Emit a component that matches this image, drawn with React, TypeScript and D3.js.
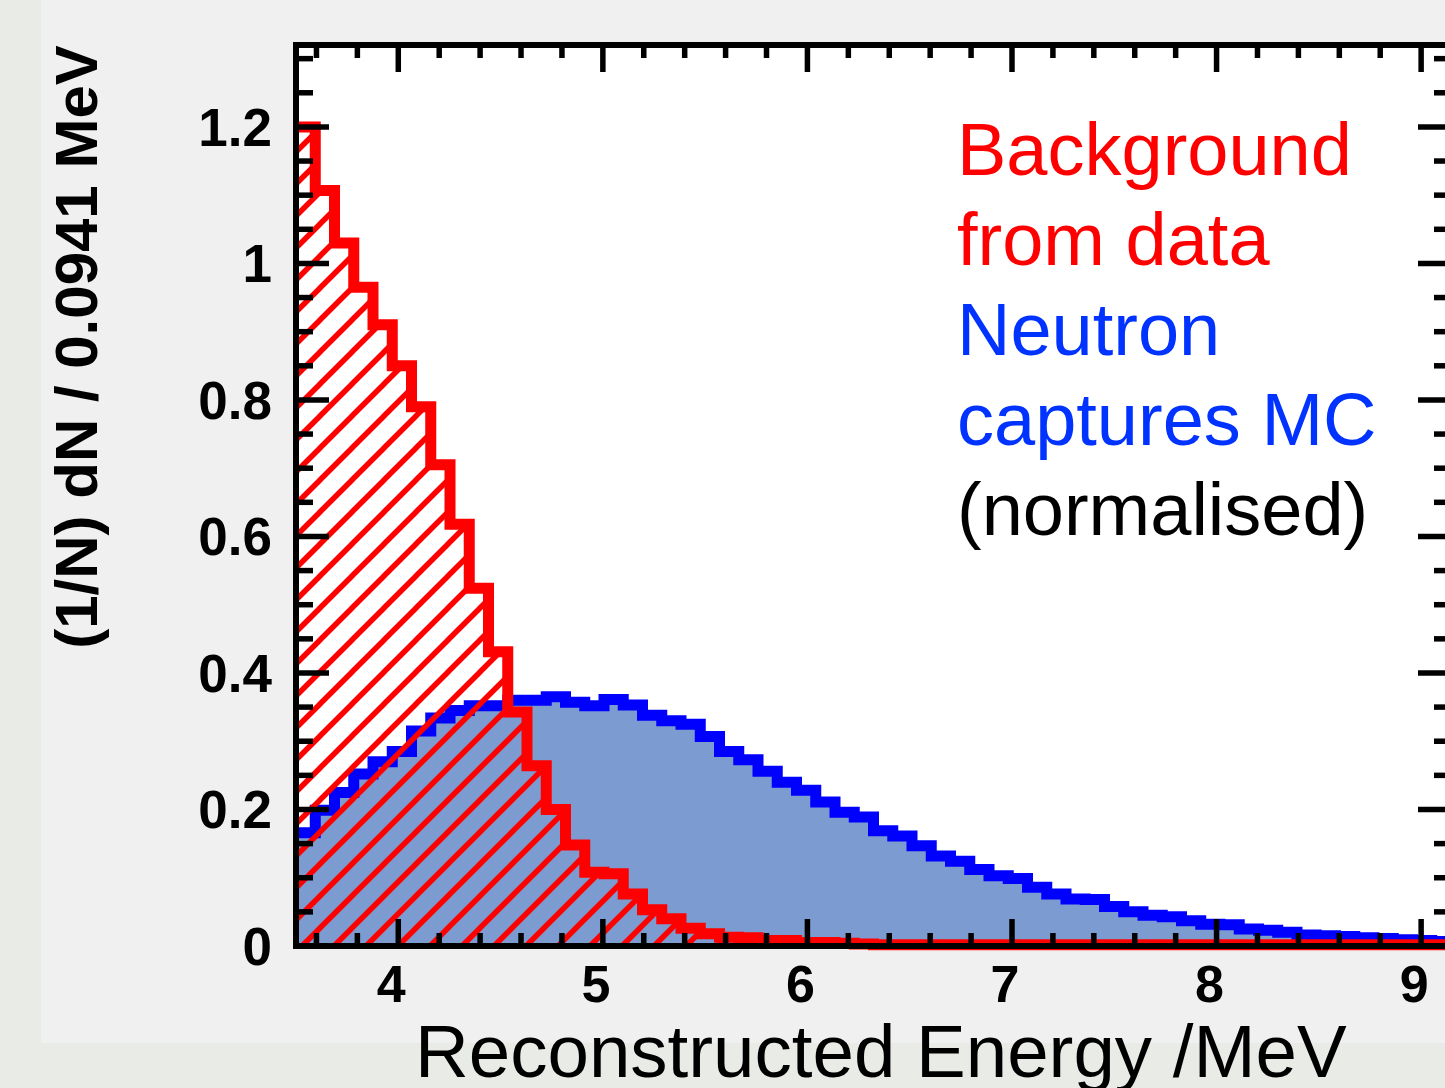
import * as d3 from 'd3'

// histogram binning (MeV)
const binLow = 3.5
const binWidth = 0.0941

// background from data, per bin (normalised)
const background = [
  1.2, 1.107, 1.03, 0.965, 0.91, 0.85, 0.79, 0.705, 0.618, 0.524,
  0.431, 0.343, 0.264, 0.2, 0.148, 0.108, 0.106, 0.076, 0.053, 0.04,
  0.026, 0.018, 0.013, 0.012, 0.008, 0.008, 0.005, 0.005, 0.004, 0.003,
  0.002, 0.002, 0.002, 0.002, 0.002, 0.002, 0.002, 0.002, 0.002, 0.002,
  0.002, 0.002, 0.002, 0.002, 0.002, 0.002, 0.002, 0.002, 0.002, 0.002,
  0.002, 0.002, 0.002, 0.002, 0.002, 0.002, 0.002, 0.002, 0.002, 0.002,
]

// neutron captures MC, per bin (normalised)
const neutron = [
  0.166, 0.199, 0.225, 0.252, 0.27, 0.285, 0.315, 0.334, 0.345, 0.352,
  0.352, 0.36, 0.36, 0.365, 0.357, 0.352, 0.361, 0.353, 0.338, 0.33,
  0.325, 0.307, 0.285, 0.273, 0.256, 0.24, 0.228, 0.211, 0.196, 0.189,
  0.169, 0.161, 0.147, 0.132, 0.124, 0.112, 0.103, 0.099, 0.086, 0.076,
  0.069, 0.068, 0.058, 0.05, 0.045, 0.043, 0.037, 0.032, 0.031, 0.025,
  0.023, 0.02, 0.016, 0.015, 0.014, 0.012, 0.011, 0.009, 0.008, 0.0066,
]

const xTickValues = [4, 5, 6, 7, 8, 9]
const xTickLabels = ['4', '5', '6', '7', '8', '9']
const yTickValues = [0, 0.2, 0.4, 0.6, 0.8, 1, 1.2]
const yTickLabels = ['0', '0.2', '0.4', '0.6', '0.8', '1', '1.2']

const legendLines = ['Background', 'from data', 'Neutron', 'captures MC', '(normalised)']
const legendColors = ['#ff0000', '#ff0000', '#0033ff', '#0033ff', '#000000']

const FONT = '"Liberation Sans", Arial, Helvetica, sans-serif'

const App = () => {
  const width = 1445
  const height = 1088
  const nBins = neutron.length
  const xMax = binLow + nBins * binWidth

  const x = d3.scaleLinear().domain([binLow, xMax]).range([296, 1451])
  const y = d3.scaleLinear().domain([0, 1.32]).range([946, 45])

  const [x0, x1] = x.range()
  const [yBottom, yTop] = y.range()

  // step points: one per bin edge, last bin repeated at the right edge
  const steps = (vals: number[]) => {
    const pts = vals.map((v, i) => [binLow + i * binWidth, v] as [number, number])
    pts.push([binLow + vals.length * binWidth, vals[vals.length - 1]])
    return pts
  }

  const line = d3.line<[number, number]>()
    .x(d => x(d[0]))
    .y(d => y(d[1]))
    .curve(d3.curveStepAfter)

  const area = d3.area<[number, number]>()
    .x(d => x(d[0]))
    .y0(y(0))
    .y1(d => y(d[1]))
    .curve(d3.curveStepAfter)

  const bgSteps = steps(background)
  const nSteps = steps(neutron)

  // minor ticks every 0.2 MeV on x, every 0.05 on y
  const xTicks = d3.range(18, 46).map(k => ({ v: k / 5, major: k % 5 === 0 }))
  const yTicks = d3.range(0, 27).map(k => ({ v: k / 20, major: k % 4 === 0 }))

  return (
    <svg width={width} height={height}
      style={{ position: 'absolute', left: 0, top: 0, display: 'block' }}
      fontFamily={FONT}>
      <defs>
        <clipPath id="plotClip">
          <rect x={x0 + 3} y={0} width={x1 - x0 - 6} height={yBottom + 7} />
        </clipPath>
        <pattern id="hatch" patternUnits="userSpaceOnUse" width={32} height={32}>
          <path d="M-8,8 L8,-8 M0,32 L32,0 M24,40 L40,24" stroke="#ff0000" strokeWidth={5.5} />
        </pattern>
      </defs>

      {/* canvas */}
      <rect x={0} y={0} width={width} height={height} fill="#e9ebe7" />
      <rect x={41} y={0} width={width - 41} height={1043} fill="#f0f0f0" />
      <rect x={x0} y={yTop} width={x1 - x0} height={yBottom - yTop} fill="#ffffff" />

      <g clipPath="url(#plotClip)">
        <path d={area(nSteps) || ''} fill="#7b9bd1" />
        <path d={line(nSteps) || ''} fill="none" stroke="#0000ff" strokeWidth={11} strokeLinejoin="miter" />
        <path d={area(bgSteps) || ''} fill="url(#hatch)" />
        <path d={line(bgSteps) || ''} fill="none" stroke="#ff0000" strokeWidth={11} strokeLinejoin="miter" />
      </g>

      {/* ticks */}
      <g stroke="#000" strokeWidth={5.5}>
        {xTicks.map(t => {
          const len = t.major ? 27 : 13
          return (
            <g key={'xt' + t.v}>
              <line x1={x(t.v)} x2={x(t.v)} y1={yBottom} y2={yBottom - len} />
              <line x1={x(t.v)} x2={x(t.v)} y1={yTop} y2={yTop + len} />
            </g>
          )
        })}
        {yTicks.map(t => {
          const len = t.major ? 33 : 17
          return (
            <g key={'yt' + t.v}>
              <line x1={x0} x2={x0 + len} y1={y(t.v)} y2={y(t.v)} />
              <line x1={x1} x2={x1 - len} y1={y(t.v)} y2={y(t.v)} />
            </g>
          )
        })}
      </g>

      {/* frame */}
      <rect x={x0} y={yTop} width={x1 - x0} height={yBottom - yTop}
        fill="none" stroke="#000" strokeWidth={6} />

      {/* tick labels */}
      {xTickValues.map((v, i) => (
        <text key={'xl' + v} x={x(v) - 7} y={1002} textAnchor="middle"
          fontSize={52} fontWeight="bold" fill="#000">{xTickLabels[i]}</text>
      ))}
      {yTickValues.map((v, i) => (
        <text key={'yl' + v} x={272} y={y(v) + 19} textAnchor="end"
          fontSize={53} fontWeight="bold" fill="#000">{yTickLabels[i]}</text>
      ))}

      {/* axis titles */}
      <text x={415} y={1077} fontSize={74.5} fill="#000">Reconstructed Energy /MeV</text>
      <text transform="translate(97,347) rotate(-90)" textAnchor="middle"
        fontSize={60} fontWeight="bold" fill="#000">(1/N) dN / 0.0941 MeV</text>

      {/* legend */}
      {legendLines.map((s, i) => (
        <text key={s} x={957} y={175 + i * 90} fontSize={74} fill={legendColors[i]}>{s}</text>
      ))}
    </svg>
  )
}

export default App
